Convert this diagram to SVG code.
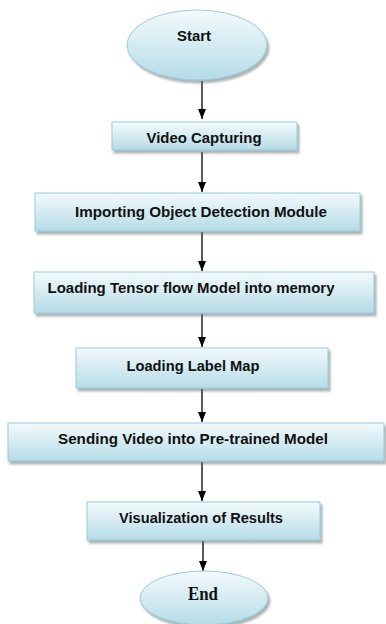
<svg xmlns="http://www.w3.org/2000/svg" width="386" height="624" viewBox="0 0 386 624">
<style>
.box{fill:url(#g);stroke:#93cddd;stroke-width:1;filter:url(#sh)}
.t{font-family:"Liberation Sans",Arial,sans-serif;font-weight:bold;font-size:15px;fill:#111;text-anchor:middle}
.ts{font-family:"Liberation Serif","Times New Roman",serif;font-weight:bold;font-size:18px;fill:#111;text-anchor:middle}
.c{stroke:#000;stroke-width:1.3;fill:none;marker-end:url(#a)}
</style>
<defs>
<linearGradient id="g" x1="0" y1="0" x2="0" y2="1">
<stop offset="0" stop-color="#f3fafc"/>
<stop offset="1" stop-color="#b5dce7"/>
</linearGradient>
<filter id="sh" x="-10%" y="-20%" width="130%" height="160%">
<feDropShadow dx="2" dy="3" stdDeviation="1.2" flood-color="#6f6f6f" flood-opacity="0.55"/>
</filter>
<marker id="a" markerWidth="10" markerHeight="8" refX="10" refY="4" orient="auto" markerUnits="userSpaceOnUse" viewBox="0 0 10 8">
<path d="M0,0 L10,4 L0,8 Z" fill="#000"/>
</marker>
</defs>
<g id="connectors">
<line class="c" x1="202" y1="81" x2="202" y2="119"/>
<line class="c" x1="202" y1="152" x2="202" y2="192"/>
<line class="c" x1="202" y1="232" x2="202" y2="271"/>
<line class="c" x1="202" y1="314" x2="202" y2="347"/>
<line class="c" x1="202" y1="389" x2="202" y2="422"/>
<line class="c" x1="202" y1="462" x2="202" y2="501"/>
<line class="c" x1="203" y1="541" x2="203" y2="571"/>
</g>
<g id="start">
<ellipse class="box" cx="197" cy="45" rx="70" ry="35"/>
<text class="t" x="194" y="41" textLength="34" lengthAdjust="spacingAndGlyphs">Start</text>
</g>
<g id="video">
<rect class="box" x="112" y="122" width="185" height="28"/>
<text class="t" x="204" y="143" textLength="115" lengthAdjust="spacingAndGlyphs">Video Capturing</text>
</g>
<g id="import">
<rect class="box" x="35" y="193" width="325" height="38"/>
<text class="t" x="201" y="217" textLength="252" lengthAdjust="spacingAndGlyphs">Importing Object Detection Module</text>
</g>
<g id="tensor">
<rect class="box" x="34" y="272" width="340" height="41"/>
<text class="t" x="191" y="293" textLength="287" lengthAdjust="spacingAndGlyphs">Loading Tensor flow Model into memory</text>
</g>
<g id="labelmap">
<rect class="box" x="76" y="348" width="252" height="40"/>
<text class="t" x="193" y="371" textLength="133" lengthAdjust="spacingAndGlyphs">Loading Label Map</text>
</g>
<g id="sending">
<rect class="box" x="8" y="423" width="376" height="38"/>
<text class="t" x="193" y="444" textLength="270" lengthAdjust="spacingAndGlyphs">Sending Video into Pre-trained Model</text>
</g>
<g id="visual">
<rect class="box" x="87" y="502" width="233" height="38"/>
<text class="t" x="201" y="523" textLength="164" lengthAdjust="spacingAndGlyphs">Visualization of Results</text>
</g>
<g id="end">
<ellipse class="box" cx="204" cy="598" rx="64" ry="27"/>
<text class="ts" x="203" y="600" textLength="30" lengthAdjust="spacingAndGlyphs">End</text>
</g>
</svg>
